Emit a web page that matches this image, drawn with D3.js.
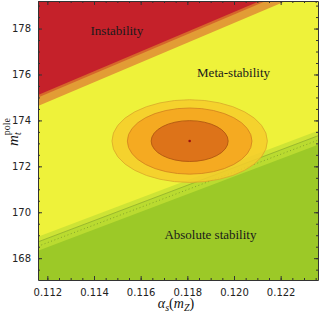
<!DOCTYPE html>
<html>
<head>
<meta charset="utf-8">
<script src="https://cdn.jsdelivr.net/npm/d3@7"></script>
<style>
 body { margin: 0; background: #fff; }
 .tick text { font-family: "DejaVu Sans", sans-serif; }
</style>
</head>
<body>
<script>
 // *** data
 var alphaEnds = [0.1116, 0.1236];

 // instability side (upper left), m_t at the two alpha ends
 var instabRed = [175.11, 180.27];
 var instabDark = [175.0, 180.16];
 var instabLight = [174.63, 179.79];

 // absolute stability side (lower right)
 var stabYellowEdge = [168.93, 173.55];
 var stabSolid = [168.71, 173.33];
 var stabDotted = [168.52, 173.14];
 var stabGreen = [168.32, 172.94];

 // experimental ellipses
 var centre = { alpha: 0.1181, mt: 173.1 };
 var ellRa = [0.00333, 0.00267, 0.00165];
 var ellRm = [1.80, 1.44, 0.89];
 var ellFill = ["#f6cd2c", "#f4a320", "#d86a17"];
 var ellStroke = ["#d9a82a", "#d0801e", "#a9500f"];

 var xTicks = [0.112, 0.114, 0.116, 0.118, 0.120, 0.122];
 var yTicks = [168, 170, 172, 174, 176, 178];

 var regionLabels = [
  { text: "Instability", alpha: 0.11498, mt: 177.7 },
  { text: "Meta-stability", alpha: 0.11998, mt: 175.9 },
  { text: "Absolute stability", alpha: 0.11899, mt: 168.85 }
 ];

 // *** drawing
 var width = 320, height = 315;
 var pLeft = 38, pRight = 318, pTop = 1, pBottom = 280;

 var svg = d3.select("body").append("svg")
  .attr("width", width)
  .attr("height", height);

 var x = d3.scaleLinear().domain([0.1116, 0.1236]).range([pLeft, pRight]);
 var y = d3.scaleLinear().domain([167.05, 179.2]).range([pBottom, pTop]);

 svg.append("clipPath").attr("id", "plotclip")
  .append("rect")
  .attr("x", pLeft).attr("y", pTop)
  .attr("width", pRight - pLeft).attr("height", pBottom - pTop);

 var plot = svg.append("g").attr("clip-path", "url(#plotclip)");

 // meta-stability background
 plot.append("rect")
  .attr("x", pLeft).attr("y", pTop)
  .attr("width", pRight - pLeft).attr("height", pBottom - pTop)
  .attr("fill", "#eef23a");

 var line = d3.line().x(function(d) { return x(d[0]); }).y(function(d) { return y(d[1]); });

 function region(vals, toward) {
  var pts = alphaEnds.map(function(a, i) { return [a, vals[i]]; });
  pts.push([alphaEnds[1], toward]);
  pts.push([alphaEnds[0], toward]);
  return line(pts) + "Z";
 }

 // upper bands
 [[instabLight, "#e29c35"], [instabDark, "#d6672a"], [instabRed, "#c5212a"]].forEach(function(b) {
  plot.append("path").attr("d", region(b[0], 190)).attr("fill", b[1]);
 });

 // lower bands
 [[stabYellowEdge, "#cee435"], [stabSolid, "#badb30"], [stabGreen, "#9cc927"]].forEach(function(b) {
  plot.append("path").attr("d", region(b[0], 160)).attr("fill", b[1]);
 });

 plot.append("path")
  .attr("d", line(alphaEnds.map(function(a, i) { return [a, stabSolid[i]]; })))
  .attr("fill", "none").attr("stroke", "#8fae2c").attr("stroke-width", 0.8);

 plot.append("path")
  .attr("d", line(alphaEnds.map(function(a, i) { return [a, stabDotted[i]]; })))
  .attr("fill", "none").attr("stroke", "#7f9f28").attr("stroke-width", 0.9)
  .attr("stroke-dasharray", "1,2.5");

 // ellipses
 plot.selectAll("ellipse")
  .data(ellRa)
  .enter()
  .append("ellipse")
  .attr("cx", x(centre.alpha))
  .attr("cy", y(centre.mt))
  .attr("rx", function(d) { return x(centre.alpha + d) - x(centre.alpha); })
  .attr("ry", function(d, i) { return y(centre.mt - ellRm[i]) - y(centre.mt); })
  .attr("fill", function(d, i) { return ellFill[i]; })
  .attr("fill-opacity", 0.85)
  .attr("stroke", function(d, i) { return ellStroke[i]; })
  .attr("stroke-width", 0.8);

 plot.append("circle")
  .attr("cx", x(centre.alpha))
  .attr("cy", y(centre.mt))
  .attr("r", 1.3)
  .attr("fill", "#9a1010");

 // region labels
 svg.selectAll(".region")
  .data(regionLabels)
  .enter()
  .append("text")
  .attr("class", "region")
  .attr("x", function(d) { return x(d.alpha); })
  .attr("y", function(d) { return y(d.mt); })
  .attr("text-anchor", "middle")
  .attr("font-family", "Liberation Serif, serif")
  .attr("font-size", 13)
  .attr("fill", "#1a1a1a")
  .text(function(d) { return d.text; });

 // *** axes, ticks inside on all four sides
 var fmt = d3.format(".3f");
 var xMinor = d3.range(0.1120, 0.1236, 0.0005);
 var yMinor = d3.range(167.5, 179.2, 0.5);

 var axes = [
  { ax: d3.axisBottom(x).tickValues(xTicks).tickFormat(fmt), tr: "translate(0," + pBottom + ")" },
  { ax: d3.axisTop(x).tickValues(xTicks).tickFormat(""), tr: "translate(0," + pTop + ")" },
  { ax: d3.axisLeft(y).tickValues(yTicks).tickFormat(d3.format("d")), tr: "translate(" + pLeft + ",0)" },
  { ax: d3.axisRight(y).tickValues(yTicks).tickFormat(""), tr: "translate(" + pRight + ",0)" }
 ];
 var minors = [
  d3.axisBottom(x).tickValues(xMinor).tickFormat(""),
  d3.axisTop(x).tickValues(xMinor).tickFormat(""),
  d3.axisLeft(y).tickValues(yMinor).tickFormat(""),
  d3.axisRight(y).tickValues(yMinor).tickFormat("")
 ];

 axes.forEach(function(a, i) {
  var g = svg.append("g").attr("transform", a.tr)
   .call(a.ax.tickSizeInner(-4).tickSizeOuter(0).tickPadding(i < 2 ? 9 : 7));
  g.select(".domain").attr("stroke", "#333").attr("stroke-width", 1);
  g.selectAll(".tick line").attr("stroke", "#333");
  g.selectAll(".tick text").attr("font-size", 10).attr("fill", "#222");
  svg.append("g").attr("transform", a.tr)
   .call(minors[i].tickSizeInner(-2).tickSizeOuter(0))
   .call(function(m) { m.select(".domain").remove(); })
   .selectAll(".tick line").attr("stroke", "#333");
 });

 // x axis title
 var xt = svg.append("text")
  .attr("x", (pLeft + pRight) / 2 - 2)
  .attr("y", 308)
  .attr("text-anchor", "middle")
  .attr("font-family", "Liberation Serif, serif")
  .attr("font-size", 14)
  .attr("fill", "#111");
 xt.append("tspan").attr("font-style", "italic").text("α");
 xt.append("tspan").attr("font-style", "italic").attr("font-size", 10).attr("dy", 3).text("s");
 xt.append("tspan").attr("dy", -3).text("(");
 xt.append("tspan").attr("font-style", "italic").text("m");
 xt.append("tspan").attr("font-style", "italic").attr("font-size", 10).attr("dy", 3).text("Z");
 xt.append("tspan").attr("dy", -3).text(")");

 // y axis title
 var yt = svg.append("text")
  .attr("transform", "translate(18,132) rotate(-90)")
  .attr("text-anchor", "middle")
  .attr("font-family", "Liberation Serif, serif")
  .attr("font-size", 15)
  .attr("fill", "#111");
 yt.append("tspan").attr("font-style", "italic").text("m");
 yt.append("tspan").attr("font-style", "italic").attr("font-size", 10).attr("dy", 3).text("t");
 yt.append("tspan").attr("font-size", 10).attr("dx", -3).attr("dy", -11).text("pole");
</script>
</body>
</html>
